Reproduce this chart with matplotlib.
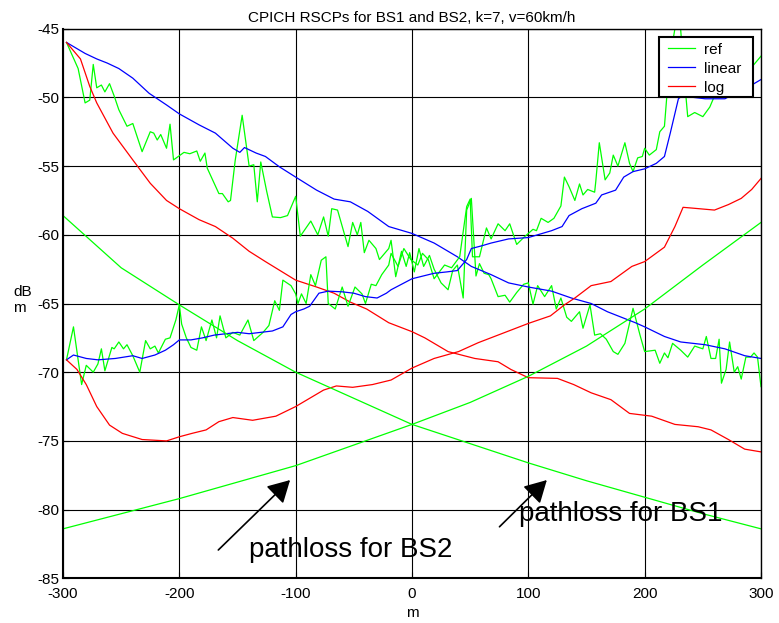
import matplotlib
matplotlib.use("Agg")
import matplotlib.pyplot as plt
from matplotlib.patches import Rectangle

plt.rcParams['font.family'] = ['Liberation Sans', 'DejaVu Sans']
plt.rcParams['axes.unicode_minus'] = False

# ---------------- data ----------------
title = "CPICH RSCPs for BS1 and BS2, k=7, v=60km/h"
x_ticks = [-300, -200, -100, 0, 100, 200, 300]
y_ticks = [-85, -80, -75, -70, -65, -60, -55, -50, -45]

# reference (measured) RSCP, BS1 (descending)
ref1_x = [-297, -287, -281, -277, -274, -271, -267, -264, -260, -256, -252, -245, -240, -232,
          -225, -222, -219, -216, -211, -208, -205, -196, -191, -185, -182, -178, -176, -166,
          -163, -158, -156, -152, -146, -140, -136, -133, -130, -125, -120, -113, -107, -100,
          -96, -87, -81, -76, -72, -69, -64, -55, -51, -47, -44, -41, -37, -31, -28, -20,
          -18, -14, -9, -5, -2, 2, 6, 10, 15, 19, 25, 31, 35, 39, 44, 47, 51, 55, 58, 62,
          66, 68, 74, 80, 84, 90, 96, 100, 104, 108, 114, 120, 124, 128, 133, 137, 144, 147,
          153, 157, 162, 167, 173, 177, 183, 190, 196, 200, 209, 213, 217, 220, 224, 231,
          237, 243, 250, 253, 257, 261, 264, 266, 270, 273, 277, 280, 283, 287, 291, 294,
          297, 300]
ref1_y = [-46.0, -47.9, -50.4, -50.2, -47.6, -49.3, -49.1, -49.6, -49.0, -49.9, -50.9, -52.1,
          -51.9, -53.95, -52.5, -52.6, -53.1, -52.7, -53.7, -51.95, -54.55, -54.0, -54.1,
          -53.9, -54.65, -54.05, -55.15, -57.0, -57.0, -57.6, -57.5, -54.6, -51.3, -55.0,
          -54.9, -57.6, -54.7, -56.8, -58.7, -58.75, -58.6, -57.2, -60.1, -59.0, -60.0,
          -58.7, -60.1, -58.1, -58.2, -60.86, -59.1, -60.0, -59.1, -61.3, -60.4, -61.0,
          -61.8, -61.0, -60.4, -63.05, -61.2, -62.3, -61.3, -62.7, -61.0, -62.3, -61.5,
          -62.5, -63.5, -64.0, -62.6, -62.2, -64.6, -58.2, -57.35, -63.0, -62.1, -62.8,
          -62.9, -63.2, -64.5, -64.4, -64.9, -64.2, -63.6, -63.5, -65.05, -63.7, -64.5,
          -63.7, -65.4, -64.6, -66.0, -66.3, -65.6, -66.8, -65.1, -67.3, -67.2, -67.6,
          -68.5, -68.7, -67.9, -65.35, -67.3, -68.5, -68.4, -69.35, -68.6, -68.95, -67.9,
          -68.4, -68.9, -68.1, -68.3, -67.4, -69.0, -69.0, -67.6, -70.8, -69.8, -67.8,
          -70.0, -69.6, -70.5, -68.9, -68.9, -68.6, -68.9, -71.05]

# reference (measured) RSCP, BS2 (ascending)
ref2_x = [-297, -291, -284, -280, -274, -270, -267, -264, -258, -256, -252, -248, -245, -240,
          -234, -229, -225, -221, -218, -212, -208, -203, -200, -198, -194, -190, -185, -181,
          -177, -172, -168, -165, -160, -154, -148, -141, -136, -128, -123, -118, -114, -111,
          -104, -100, -98, -95, -91, -87, -83, -78, -74, -72, -66, -60, -55, -49, -43, -40,
          -35, -31, -26, -20, -18, -12, -7, -1, 5, 9, 14, 19, 28, 34, 41, 47, 50, 52, 58,
          64, 68, 74, 80, 84, 90, 96, 100, 104, 107, 111, 117, 122, 128, 131, 135, 140, 144,
          147, 151, 157, 158, 161, 166, 170, 173, 177, 183, 187, 190, 194, 198, 200, 204,
          210, 213, 217, 220, 224, 227, 230, 234, 237, 243, 250, 256, 259, 265, 272, 280,
          287, 294, 300]
ref2_y = [-69.1, -66.7, -70.9, -69.5, -70.0, -69.4, -68.3, -69.9, -68.2, -68.3, -67.8, -68.3,
          -68.0, -68.8, -70.0, -67.7, -68.3, -68.1, -68.6, -67.6, -67.5, -66.2, -65.1, -66.5,
          -67.5, -68.2, -68.4, -66.7, -67.7, -66.2, -67.5, -65.9, -67.5, -67.1, -67.3, -66.2,
          -67.7, -67.1, -66.6, -64.8, -65.5, -63.3, -63.7, -64.3, -65.0, -64.3, -65.0, -62.9,
          -63.7, -61.85, -61.6, -65.0, -65.4, -63.8, -65.2, -63.8, -64.3, -65.0, -63.6,
          -63.7, -62.9, -62.2, -61.35, -62.3, -61.0, -61.8, -62.2, -61.35, -61.8, -63.2,
          -62.2, -62.4, -61.6, -57.95, -57.4, -61.6, -61.6, -59.5, -60.3, -59.2, -59.7,
          -59.2, -60.7, -60.2, -59.9, -59.6, -59.7, -58.8, -59.1, -58.8, -57.9, -55.8, -56.5,
          -57.5, -56.3, -57.1, -56.7, -56.9, -56.1, -53.3, -56.0, -55.5, -54.2, -55.0, -53.3,
          -54.8, -55.4, -54.4, -54.3, -53.7, -54.2, -53.8, -52.5, -52.1, -48.9, -46.0, -44.5,
          -44.0, -48.5, -51.4, -51.1, -51.4, -50.7, -50.1, -49.3, -48.5, -48.0, -48.2, -47.6,
          -47.0]

# linear interpolation estimate
lin1_x = [-297, -281, -271, -262, -252, -240, -226, -211, -200, -183, -169, -154, -148, -144,
          -134, -126, -114, -100, -82, -67, -53, -38, -20, 0, 19, 39, 51, 68, 83, 100, 120,
          137, 154, 168, 183, 192, 200, 217, 231, 252, 269, 286, 300]
lin1_y = [-46.0, -46.8, -47.2, -47.5, -47.9, -48.6, -49.7, -50.55, -51.2, -52.0, -52.6, -53.7,
          -54.0, -53.65, -54.05, -54.3, -55.05, -55.8, -56.75, -57.4, -57.6, -58.3, -59.4,
          -59.9, -60.6, -61.6, -62.3, -62.9, -63.5, -63.8, -64.1, -64.6, -65.0, -65.6, -66.1,
          -66.4, -66.7, -67.4, -67.8, -68.0, -68.3, -68.8, -69.0]
lin2_x = [-297, -291, -280, -270, -255, -240, -232, -221, -212, -205, -200, -190, -180, -170,
          -160, -150, -140, -130, -120, -111, -104, -100, -93, -88, -80, -72, -60, -50, -40,
          -30, -22, -18, 0, 19, 30, 39, 47, 51, 60, 68, 83, 100, 108, 120, 129, 135, 146,
          158, 163, 175, 182, 190, 200, 210, 217, 222, 229, 232, 252, 269, 280, 290, 300]
lin2_y = [-69.1, -68.75, -69.0, -69.1, -69.0, -68.8, -69.0, -68.75, -68.4, -68.0, -67.65,
          -67.65, -67.5, -67.3, -67.2, -67.1, -67.2, -67.1, -67.0, -66.7, -65.8, -65.6, -65.4,
          -65.2, -64.25, -64.1, -64.15, -64.25, -64.5, -64.6, -64.25, -64.0, -63.2, -62.8,
          -62.7, -62.6, -61.8, -61.0, -60.8, -60.6, -60.3, -60.2, -60.0, -59.7, -59.4, -58.6,
          -58.1, -57.7, -57.1, -56.75, -55.8, -55.4, -55.2, -54.8, -54.3, -52.6, -50.1, -49.9,
          -50.1, -50.1, -49.6, -49.2, -48.7]

# logarithmic interpolation estimate
log1_x = [-297, -285, -277, -271, -257, -240, -225, -211, -200, -183, -169, -154, -140, -126,
          -100, -82, -67, -53, -39, -20, 0, 11, 31, 54, 74, 85, 100, 125, 139, 154, 171, 187,
          206, 226, 246, 257, 272, 286, 300]
log1_y = [-46.0, -47.2, -49.2, -50.4, -52.6, -54.55, -56.25, -57.5, -58.1, -58.9, -59.4,
          -60.25, -61.2, -61.95, -63.3, -63.8, -64.25, -64.9, -65.4, -66.4, -67.05, -67.5,
          -68.5, -69.0, -69.24, -69.8, -70.4, -70.45, -70.9, -71.5, -72.0, -73.0, -73.2,
          -73.8, -73.97, -74.2, -74.9, -75.6, -75.8]
log2_x = [-297, -288, -280, -271, -260, -249, -232, -211, -200, -189, -177, -166, -154, -137,
          -117, -100, -90, -76, -65, -51, -34, -18, 0, 19, 40, 57, 77, 100, 119, 131, 140,
          154, 171, 189, 200, 217, 226, 233, 240, 260, 272, 283, 292, 300]
log2_y = [-69.1, -69.8, -70.9, -72.5, -73.85, -74.45, -74.9, -75.0, -74.7, -74.45, -74.2,
          -73.6, -73.3, -73.5, -73.2, -72.5, -72.0, -71.3, -71.0, -71.1, -70.9, -70.57,
          -69.7, -69.0, -68.5, -67.85, -67.2, -66.45, -65.9, -65.1, -64.6, -63.7, -63.4,
          -62.3, -61.95, -60.9, -59.4, -58.0, -58.05, -58.2, -57.8, -57.35, -56.7, -55.9]

# pathloss curves
pl_x = [-300, -250, -200, -150, -100, -50, 0, 50, 100, 150, 200, 250, 300]
pl_bs1 = [-58.6, -62.4, -65.1, -67.7, -70.0, -71.9, -73.8, -75.2, -76.6, -77.9, -79.1, -80.3, -81.4]
pl_bs2 = [-81.4, -80.3, -79.2, -78.0, -76.8, -75.3, -73.8, -72.2, -70.3, -68.1, -65.4, -62.2, -59.1]

# annotations: (text, text position, arrow tail, arrow tip) in data coords
ann_bs2_text, ann_bs2_pos = "pathloss for BS2", (-140, -83.45)
ann_bs2_tail, ann_bs2_tip = (-166.5, -82.94), (-104.8, -77.85)
ann_bs1_text, ann_bs1_pos = "pathloss for BS1", (92.3, -80.8)
ann_bs1_tail, ann_bs1_tip = (75.2, -81.25), (115.9, -77.85)

# ---------------- plot ----------------
GREEN, BLUE, RED = '#00FF00', '#0000FF', '#FF0000'
LW = 0.9

fig = plt.figure(figsize=(7.79, 6.23), dpi=100)
ax = fig.add_axes([63/779, 1 - 578.3/623, 698/779, 549.6/623])

ax.plot(ref1_x, ref1_y, color=GREEN, lw=LW, label='ref')
ax.plot(lin1_x, lin1_y, color=BLUE, lw=LW, label='linear')
ax.plot(log1_x, log1_y, color=RED, lw=LW, label='log')
ax.plot(ref2_x, ref2_y, color=GREEN, lw=LW)
ax.plot(lin2_x, lin2_y, color=BLUE, lw=LW)
ax.plot(log2_x, log2_y, color=RED, lw=LW)
ax.plot(pl_x, pl_bs1, color=GREEN, lw=LW)
ax.plot(pl_x, pl_bs2, color=GREEN, lw=LW)

ax.set_xlim(-300, 300)
ax.set_ylim(-85, -45)
ax.set_xticks(x_ticks)
ax.set_yticks(y_ticks)
ax.grid(True, color='black', lw=0.8)
ax.set_axisbelow(True)
ax.tick_params(direction='in', length=4, labelsize=11, colors='black')
ax.tick_params(axis='x', pad=6)
ax.tick_params(axis='y', pad=2.5)
for s in ax.spines.values():
    s.set_linewidth(1.0)
ax.spines['left'].set_linewidth(1.5)
ax.spines['bottom'].set_linewidth(1.5)

ax.set_title(title, fontsize=11, pad=5)
ax.set_xlabel('m', fontsize=11)
ax.xaxis.set_label_coords(0.5, -0.063)
ax.xaxis.label.set_va('center')
ax.set_ylabel('dB\nm', fontsize=11, rotation=0, ha='left', va='center',
              multialignment='left', linespacing=1.2)
ax.yaxis.set_label_coords(-0.0716, 0.506)

for txt, pos, tail, tip in [(ann_bs2_text, ann_bs2_pos, ann_bs2_tail, ann_bs2_tip),
                            (ann_bs1_text, ann_bs1_pos, ann_bs1_tail, ann_bs1_tip)]:
    ax.annotate('', xy=tip, xytext=tail,
                arrowprops=dict(arrowstyle='-|>,head_length=0.9,head_width=0.5',
                                mutation_scale=15, lw=1.2, color='black',
                                shrinkA=0, shrinkB=0))
    ax.text(pos[0], pos[1], txt, fontsize=20, ha='left', va='baseline')

# legend box (drawn separately so its padding matches the reference)
ax.add_patch(Rectangle((0.8543, 0.8763), 0.9881 - 0.8543, 0.98544 - 0.8763,
                       transform=ax.transAxes, facecolor='white', edgecolor='black',
                       lw=1.5, zorder=4))
leg = ax.legend(loc='upper left', bbox_to_anchor=(0.8668, 0.9747), borderaxespad=0,
                borderpad=0, fontsize=11, frameon=False,
                handlelength=1.75, handletextpad=0.6, labelspacing=0.33)
leg.set_zorder(5)

fig.savefig('out.png', dpi=100, facecolor='white')
